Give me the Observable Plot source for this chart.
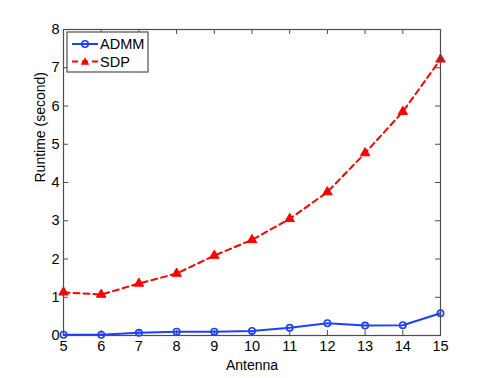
<!DOCTYPE html>
<html>
<head>
<meta charset="utf-8">
<script src="https://cdn.jsdelivr.net/npm/d3@7"></script>
<script src="https://cdn.jsdelivr.net/npm/@observablehq/plot@0.6"></script>
<style>
  html, body { margin: 0; padding: 0; background: #fff; }
  svg { display: block; }
</style>
</head>
<body>
<div id="chart"></div>
<script>
const antennas = [5, 6, 7, 8, 9, 10, 11, 12, 13, 14, 15];
const admm = [0.02, 0.02, 0.07, 0.1, 0.1, 0.12, 0.2, 0.32, 0.26, 0.27, 0.58];
const sdp = [1.13, 1.07, 1.36, 1.62, 2.09, 2.5, 3.05, 3.75, 4.77, 5.85, 7.22];
const xTicks = [5, 6, 7, 8, 9, 10, 11, 12, 13, 14, 15];
const yTicks = [0, 1, 2, 3, 4, 5, 6, 7, 8];
const seriesNames = ["ADMM", "SDP"];
const seriesColors = ["#1f3fff", "#ff0000"];

const admmData = antennas.map((a, i) => ({x: a, y: admm[i]}));
const sdpData = antennas.map((a, i) => ({x: a, y: sdp[i]}));

const W = 485, H = 378;
const mL = 63, mR = 45, mT = 29, mB = 43;
const fw = W - mL - mR, fh = H - mT - mB;
const tl = 5;
const axisColor = "#4d4d4d";
const font = "Liberation Sans, Arial, Helvetica, sans-serif";

const svg = Plot.plot({
  width: W,
  height: H,
  marginLeft: mL,
  marginRight: mR,
  marginTop: mT,
  marginBottom: mB,
  style: {fontFamily: font, fontSize: "14px", color: "#000", background: "#fff"},
  x: {domain: [5, 15], ticks: xTicks},
  y: {domain: [0, 8], ticks: yTicks},
  marks: [
    Plot.axisX(xTicks, {tickSize: 0, tickPadding: 5, label: null, fontSize: 14.5, fill: "#000"}),
    Plot.axisY(yTicks, {tickSize: 0, tickPadding: 4, label: null, fontSize: 14.5, fill: "#000"}),
    Plot.tickX(xTicks, {x: d => d, insetTop: fh - tl, stroke: axisColor}),
    Plot.tickX(xTicks, {x: d => d, insetBottom: fh - tl, stroke: axisColor}),
    Plot.tickY(yTicks, {y: d => d, insetLeft: fw - tl, stroke: axisColor}),
    Plot.tickY(yTicks, {y: d => d, insetRight: fw - tl, stroke: axisColor}),
    Plot.line(sdpData, {x: "x", y: "y", stroke: seriesColors[1], strokeWidth: 2, strokeDasharray: "6,4"}),
    Plot.dot(sdpData, {x: "x", y: "y", symbol: "triangle", r: 3.5, fill: seriesColors[1], stroke: seriesColors[1], strokeWidth: 1}),
    Plot.line(admmData, {x: "x", y: "y", stroke: seriesColors[0], strokeWidth: 2}),
    Plot.dot(admmData, {x: "x", y: "y", symbol: "circle", r: 3.2, fill: "none", stroke: seriesColors[0], strokeWidth: 1.6}),
    Plot.frame({stroke: axisColor, strokeWidth: 1.2}),
    Plot.text(["Antenna"], {frameAnchor: "bottom", lineAnchor: "middle", dy: 30, fontSize: 14, fill: "#000"}),
    Plot.text(["Runtime (second)"], {frameAnchor: "left", dx: -23, rotate: -90, fontSize: 14, fill: "#000"})
  ]
});

// Legend box (top-left inside the axes)
const g = d3.select(svg).append("g").attr("font-family", font).attr("font-size", 14.5).attr("text-anchor", "start");
const lx = mL + 4, ly = mT + 3, lw = 81, lh = 40;
g.append("rect").attr("x", lx).attr("y", ly).attr("width", lw).attr("height", lh)
  .attr("fill", "#fff").attr("stroke", axisColor).attr("stroke-width", 1.2);
seriesNames.forEach((name, i) => {
  const cy = ly + 12 + i * 17.5;
  g.append("line").attr("x1", lx + 5).attr("x2", lx + 31).attr("y1", cy).attr("y2", cy)
    .attr("stroke", seriesColors[i]).attr("stroke-width", 2)
    .attr("stroke-dasharray", i === 1 ? "6,4" : null);
  if (i === 0) {
    g.append("circle").attr("cx", lx + 18).attr("cy", cy).attr("r", 3.2)
      .attr("fill", "none").attr("stroke", seriesColors[0]).attr("stroke-width", 1.6);
  } else {
    const s = 4.2;
    g.append("path").attr("d", `M${lx + 18},${cy - s} L${lx + 18 + s},${cy + s * 0.75} L${lx + 18 - s},${cy + s * 0.75} Z`)
      .attr("fill", seriesColors[1]);
  }
  g.append("text").attr("x", lx + 33).attr("y", cy).attr("dy", "0.36em").attr("fill", "#000").text(name);
});

document.getElementById("chart").appendChild(svg);
</script>
</body>
</html>
